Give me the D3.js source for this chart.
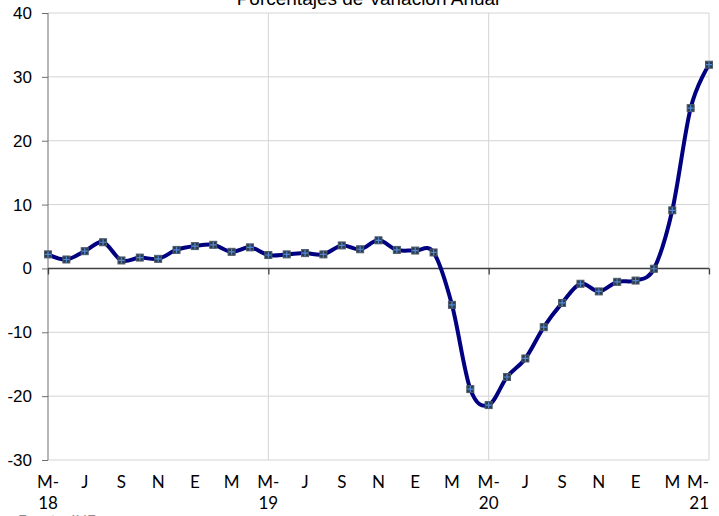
<!DOCTYPE html>
<html>
<head>
<meta charset="utf-8">
<script src="https://cdn.jsdelivr.net/npm/d3@7"></script>
<style>
body{margin:0;background:#fff;}
svg{display:block;}
</style>
</head>
<body>
<svg id="chart" width="719" height="516"></svg>
<script>
// monthly series, May 2018 .. May 2021
var months = ["May-18","Jun-18","Jul-18","Aug-18","Sep-18","Oct-18","Nov-18","Dec-18",
	"Jan-19","Feb-19","Mar-19","Apr-19","May-19","Jun-19","Jul-19","Aug-19","Sep-19","Oct-19","Nov-19","Dec-19",
	"Jan-20","Feb-20","Mar-20","Apr-20","May-20","Jun-20","Jul-20","Aug-20","Sep-20","Oct-20","Nov-20","Dec-20",
	"Jan-21","Feb-21","Mar-21","Apr-21","May-21"];
var values = [2.2,1.4,2.7,4.1,1.25,1.7,1.5,2.9,
	3.5,3.7,2.6,3.3,2.1,2.2,2.4,2.2,3.6,3.0,4.4,2.9,
	2.8,2.5,-5.7,-18.9,-21.4,-17.0,-14.1,-9.2,-5.4,-2.4,-3.6,-2.1,
	-1.9,-0.05,9.1,25.1,31.9];
var tickLabels = [["M-","18"],["J"],["S"],["N"],["E"],["M"],["M-","19"],["J"],["S"],["N"],["E"],["M"],
	["M-","20"],["J"],["S"],["N"],["E"],["M"],["M-","21"]];
var yTicks = [40,30,20,10,0,-10,-20,-30];
var title = "Porcentajes de Variación Anual";
var source = "Fuente: INE";

var svg = d3.select("#chart");
var pLeft = 48, pRight = 709, pTop = 13, pBottom = 460;

var x = d3.scaleLinear().domain([0, months.length-1]).range([pLeft, pRight]);
var y = d3.scaleLinear().domain([-30, 40]).range([pBottom, pTop]);

// title (partly out of view, like the original)
svg.append("text")
	.attr("x", 368).attr("y", 5)
	.attr("text-anchor","middle")
	.attr("font-family","Liberation Sans, Arial, sans-serif")
	.attr("font-size",19)
	.attr("fill","#000")
	.text(title);

// horizontal grid
svg.append("g")
	.selectAll("line")
	.data(yTicks)
	.enter().append("line")
	.attr("x1", pLeft).attr("x2", pRight)
	.attr("y1", d => y(d)).attr("y2", d => y(d))
	.attr("stroke","#d4d4d4").attr("stroke-width",1);

// vertical grid every 12 months
var yearIdx = d3.range(12, months.length, 12);
svg.append("g")
	.selectAll("line")
	.data(yearIdx)
	.enter().append("line")
	.attr("x1", d => x(d)).attr("x2", d => x(d))
	.attr("y1", pTop).attr("y2", pBottom)
	.attr("stroke","#d4d4d4").attr("stroke-width",1);

// y axis
var yAxis = d3.axisLeft(y).tickValues(yTicks).tickSize(6).tickPadding(10).tickFormat(d => String(d));
var gy = svg.append("g")
	.attr("transform","translate(" + pLeft + ",0)")
	.call(yAxis);
gy.select(".domain").attr("stroke","#6e6e6e").attr("d","M0," + pTop + "V" + pBottom);
gy.selectAll(".tick line").attr("stroke","#6e6e6e");
gy.selectAll(".tick text")
	.attr("font-family","Liberation Sans, Arial, sans-serif")
	.attr("font-size",17)
	.attr("fill","#000");

// zero line with yearly ticks
var gx = svg.append("g")
	.attr("transform","translate(0," + y(0) + ")")
	.call(d3.axisBottom(x).tickValues(d3.range(0, months.length, 12)).tickSize(6).tickFormat(""));
gx.select(".domain").attr("stroke","#404040").attr("stroke-width",1.6).attr("d","M" + pLeft + ",0H" + pRight);
gx.selectAll(".tick line").attr("stroke","#404040").attr("stroke-width",1.3);

// category labels every two months
var lab = svg.append("g")
	.selectAll("text")
	.data(tickLabels)
	.enter().append("text")
	.attr("font-family","Lato, Noto Sans, sans-serif")
	.attr("font-size",17)
	.attr("fill","#000")
	.attr("text-anchor",(d,i) => i == tickLabels.length-1 ? "end" : "middle")
	.attr("transform",(d,i) => "translate(" + (i == tickLabels.length-1 ? pRight : x(i*2)) + ",488)");
lab.selectAll("tspan")
	.data(d => d)
	.enter().append("tspan")
	.attr("x",0)
	.attr("dy",(d,j) => j == 0 ? 0 : 21)
	.text(d => d);

// line
var line = d3.line()
	.x((d,i) => x(i))
	.y(d => y(d))
	.curve(d3.curveCardinal.tension(0));
svg.append("path")
	.datum(values)
	.attr("d", line)
	.attr("fill","none")
	.attr("stroke","#000080")
	.attr("stroke-width",4)
	.attr("stroke-linejoin","round");

// markers
var mk = svg.append("g")
	.selectAll("g")
	.data(values)
	.enter().append("g")
	.attr("transform",(d,i) => "translate(" + x(i) + "," + y(d) + ")");
mk.append("rect")
	.attr("x",-3.5).attr("y",-3.5).attr("width",7).attr("height",7)
	.attr("fill","#2c3a4c").attr("stroke","#4d5b6b").attr("stroke-width",1);
mk.append("path")
	.attr("d","M-3,0H3M0,-3V3")
	.attr("stroke","#4f8ad8").attr("stroke-width",1.2);

// source (cut at bottom edge)
svg.append("text")
	.attr("x",18).attr("y",526)
	.attr("font-family","Lato, Noto Sans, sans-serif")
	.attr("font-size",15)
	.attr("fill","#8a8a8a")
	.text(source);
</script>
</body>
</html>
